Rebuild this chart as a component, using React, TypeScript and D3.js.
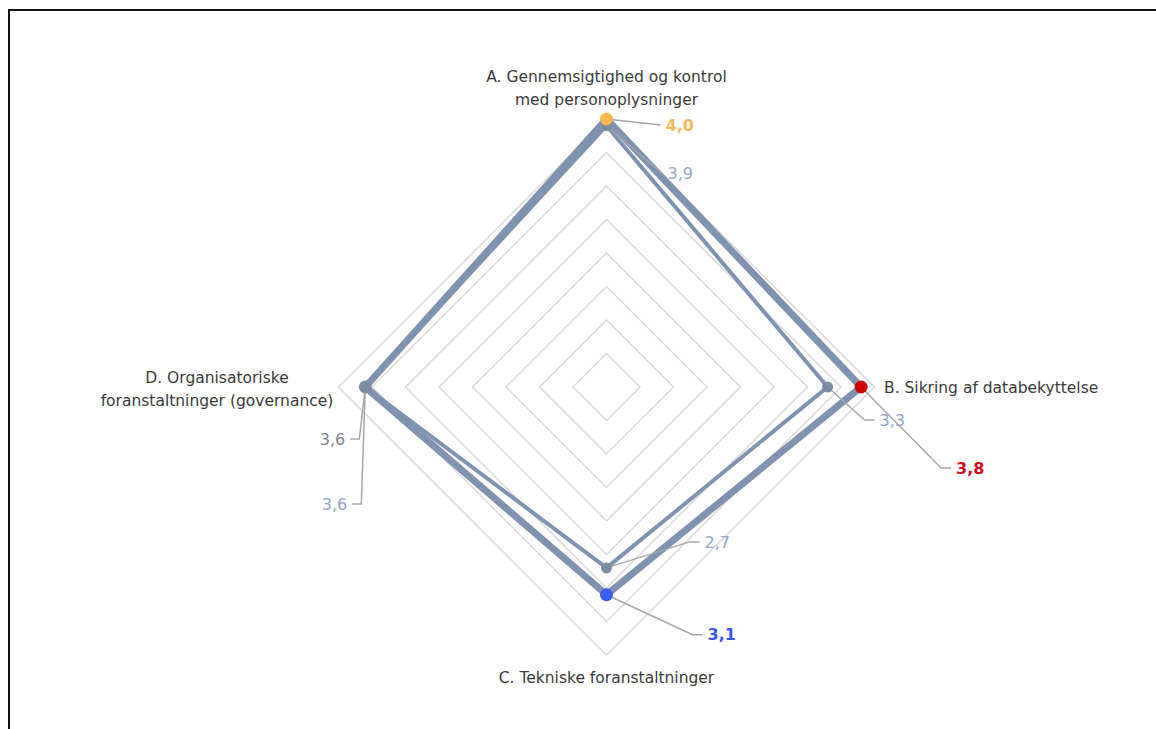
import * as d3 from 'd3'

// axes, clockwise from the top
const axes = [
  ['A. Gennemsigtighed og kontrol', 'med personoplysninger'],
  ['B. Sikring af databekyttelse'],
  ['C. Tekniske foranstaltninger'],
  ['D. Organisatoriske', 'foranstaltninger (governance)'],
]

// two series: the thick one with coloured points, the thin one all grey
const thickValues = [4.0, 3.8, 3.1, 3.6]
const thinValues = [3.9, 3.3, 2.7, 3.6]
const thickDotColors = ['#f7b64e', '#cc0000', '#3a5ef2', '#7e8ca2']
const thickLabelColors = ['#f5b85a', '#cc1020', '#3a55f0', '#7c8494']
const thinLabelColor = '#8fa4c6'

const ringSteps = d3.range(0.5, 4.01, 0.5)

const W = 1156
const H = 729
const cx = 606.5
const cy = 387

// leader line offsets: [dx to elbow, dy to elbow, horizontal tail]
const thickLeaders = [
  [54, 6, 0],
  [80, 81, 10],
  [86, 40, 10],
  [-6, 52, -9],
]
const thinLeaders = [
  [56, 48, 0],
  [37, 33, 10],
  [83, -26, 10],
  [-4, 117, -9],
]

export default function App() {
  const r = d3.scaleLinear().domain([0, 4]).range([0, 268])
  const angle = (i: number) => (i * Math.PI) / 2
  const pt = (i: number, v: number): [number, number] => [
    cx + r(v) * Math.sin(angle(i)),
    cy - r(v) * Math.cos(angle(i)),
  ]

  const radial = d3
    .lineRadial<number>()
    .angle((_, i) => angle(i))
    .radius(d => r(d))
    .curve(d3.curveLinearClosed)

  const font = '"DejaVu Sans", sans-serif'

  const leader = (i: number, v: number, off: number[], color: string, bold: boolean) => {
    const [x0, y0] = pt(i, v)
    const ex = x0 + off[0]
    const ey = y0 + off[1]
    const tx = ex + off[2]
    const dir = off[0] + off[2] < 0 ? -1 : 1
    return (
      <g key={`l${i}-${v}-${color}`}>
        <polyline
          points={`${x0},${y0} ${ex},${ey} ${tx},${ey}`}
          fill="none"
          stroke="#a6a6a6"
          strokeWidth={1.5}
        />
        <text
          x={tx + dir * 5}
          y={ey}
          dy="0.35em"
          textAnchor={dir < 0 ? 'end' : 'start'}
          fill={color}
          fontSize={16}
          fontWeight={bold ? 700 : 400}
          fontFamily={font}
        >
          {v.toFixed(1).replace('.', ',')}
        </text>
      </g>
    )
  }

  const labelPos = [
    { x: cx, y: 77, anchor: 'middle' },
    { x: 884, y: 388, anchor: 'start' },
    { x: cx, y: 678, anchor: 'middle' },
    { x: 217, y: 378, anchor: 'middle' },
  ]

  return (
    <svg
      width={W}
      height={H}
      style={{ position: 'absolute', left: 0, top: 0, background: '#fff' }}
    >
      {/* frame */}
      <line x1={9} y1={10} x2={W} y2={10} stroke="#111" strokeWidth={2} />
      <line x1={9} y1={9} x2={9} y2={H} stroke="#111" strokeWidth={2} />

      <g transform={`translate(${cx},${cy})`}>
        {ringSteps.map(s => (
          <path
            key={s}
            d={radial([s, s, s, s]) || ''}
            fill="none"
            stroke="#d9d9d9"
            strokeWidth={1.5}
          />
        ))}
        <path d={radial(thinValues) || ''} fill="none" stroke="#7f93b1" strokeWidth={4} strokeLinejoin="round" />
        <path d={radial(thickValues) || ''} fill="none" stroke="#7f93b1" strokeWidth={7} strokeLinejoin="round" />
      </g>

      {/* leader lines + value labels */}
      {thinValues.map((v, i) => leader(i, v, thinLeaders[i], thinLabelColor, false))}
      {thickValues.map((v, i) =>
        leader(i, v, thickLeaders[i], thickLabelColors[i], i !== 3)
      )}

      {/* points */}
      {thinValues.map((v, i) => {
        const [x, y] = pt(i, v)
        return <circle key={`t${i}`} cx={x} cy={y} r={5.5} fill="#7e8ca2" />
      })}
      {thickValues.map((v, i) => {
        const [x, y] = pt(i, v)
        return <circle key={`k${i}`} cx={x} cy={y} r={6.5} fill={thickDotColors[i]} />
      })}

      {/* axis labels */}
      {axes.map((lines, i) => (
        <text
          key={i}
          x={labelPos[i].x}
          y={labelPos[i].y}
          textAnchor={labelPos[i].anchor}
          fill="#3a3a3a"
          fontSize={15.5}
          fontFamily={font}
        >
          {lines.map((ln, j) => (
            <tspan key={j} x={labelPos[i].x} dy={j === 0 ? '0.35em' : 23}>
              {ln}
            </tspan>
          ))}
        </text>
      ))}
    </svg>
  )
}
